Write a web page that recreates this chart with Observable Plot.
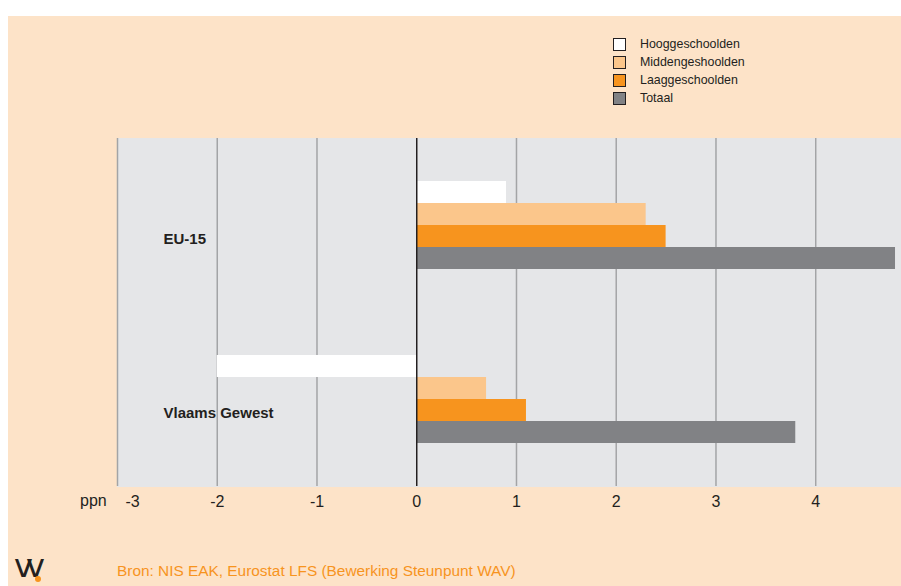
<!DOCTYPE html>
<html>
<head>
<meta charset="utf-8">
<script src="https://cdn.jsdelivr.net/npm/d3@7"></script>
<script src="https://cdn.jsdelivr.net/npm/@observablehq/plot@0.6"></script>
<style>
  html, body { margin: 0; padding: 0; background: #ffffff; }
  body { width: 901px; height: 586px; position: relative; overflow: hidden; font-family: "Liberation Sans", Arial, sans-serif; }
  #panel { position: absolute; left: 8px; top: 16px; width: 893px; height: 570px; background: #fde3c8; overflow: hidden; }
  #chart { position: absolute; left: 0; top: 0; }
  #legend { position: absolute; left: 605px; top: 19px; font-size: 12.4px; color: #231f20; }
  .row { display: flex; align-items: center; height: 18px; }
  .sw { width: 11px; height: 11px; border: 1.5px solid #231f20; margin-right: 14px; }
  #ppn { position: absolute; left: 72px; top: 476px; font-size: 16px; color: #231f20; }
  #source { position: absolute; left: 109px; top: 546px; font-size: 15.4px; color: #f7941e; }
  #logo { position: absolute; left: 6px; top: 535px; font-size: 32px; font-weight: normal; color: #231f20; letter-spacing: -7px; font-family: "DejaVu Sans", sans-serif; line-height: 30px; height: 30px; }
  #dot { position: absolute; left: 27px; top: 560px; width: 6px; height: 6px; border-radius: 3px; background: #f7941e; }
</style>
</head>
<body>
<div id="panel">
  <div id="chart"></div>
  <div id="legend"></div>
  <div id="ppn">ppn</div>
  <div id="source">Bron: NIS EAK, Eurostat LFS (Bewerking Steunpunt WAV)</div>
  <div id="logo">vv</div>
  <div id="dot"></div>
</div>
<script>
const groups = ["EU-15", "Vlaams Gewest"];
const series = ["Hooggeschoolden", "Middengeshoolden", "Laaggeschoolden", "Totaal"];
const eu15Values = [0.9, 2.3, 2.5, 4.8];
const vlaamsValues = [-2.0, 0.7, 1.1, 3.8];
const xTicks = [-3, -2, -1, 0, 1, 2, 3, 4];
const seriesColors = ["#ffffff", "#fbc68b", "#f7941e", "#818285"];

const rows = [];
series.forEach((s, i) => rows.push({group: groups[0], series: s, value: eu15Values[i]}));
series.forEach((s, i) => rows.push({group: groups[1], series: s, value: vlaamsValues[i]}));

const chart = Plot.plot({
  width: 893,
  height: 510,
  marginTop: 122,
  marginBottom: 40,
  marginLeft: 109,
  marginRight: 0,
  style: {background: "transparent", fontFamily: "'Liberation Sans', Arial, sans-serif", fontSize: "16px", color: "#231f20"},
  x: {domain: [-3, 4.86], label: null},
  y: {domain: series, axis: null, paddingInner: 0, paddingOuter: 1.95},
  fy: {domain: groups, axis: null, padding: 0},
  color: {domain: series, range: seriesColors},
  marks: [
    Plot.frame({fill: "#e5e6e8", stroke: "#e5e6e8", strokeWidth: 1}),
    Plot.ruleX(xTicks.filter(d => d !== 0), {stroke: "#a3a4a6", strokeWidth: 1.5}),
    Plot.barX(rows, {x: "value", y: "series", fy: "group", fill: "series", inset: 0}),
    Plot.ruleX([0], {stroke: "#231f20", strokeWidth: 1.5}),
    Plot.text(groups, {fy: d => d, text: d => d, frameAnchor: "left", dx: 46, dy: 14, textAnchor: "start", fontWeight: "bold", fontSize: 15, fill: "#231f20"}),
    Plot.axisX(xTicks.slice(1), {tickSize: 0, tickPadding: 9, tickFormat: d => String(d), label: null, fontSize: 16}),
    Plot.axisX(xTicks.slice(0, 1), {tickSize: 0, tickPadding: 9, tickFormat: d => String(d), label: null, fontSize: 16, dx: 15})
  ]
});
document.getElementById("chart").appendChild(chart);

const legend = document.getElementById("legend");
series.forEach((s, i) => {
  const row = document.createElement("div");
  row.className = "row";
  const sw = document.createElement("div");
  sw.className = "sw";
  sw.style.background = seriesColors[i];
  const label = document.createElement("span");
  label.textContent = s;
  row.appendChild(sw);
  row.appendChild(label);
  legend.appendChild(row);
});
</script>
</body>
</html>
